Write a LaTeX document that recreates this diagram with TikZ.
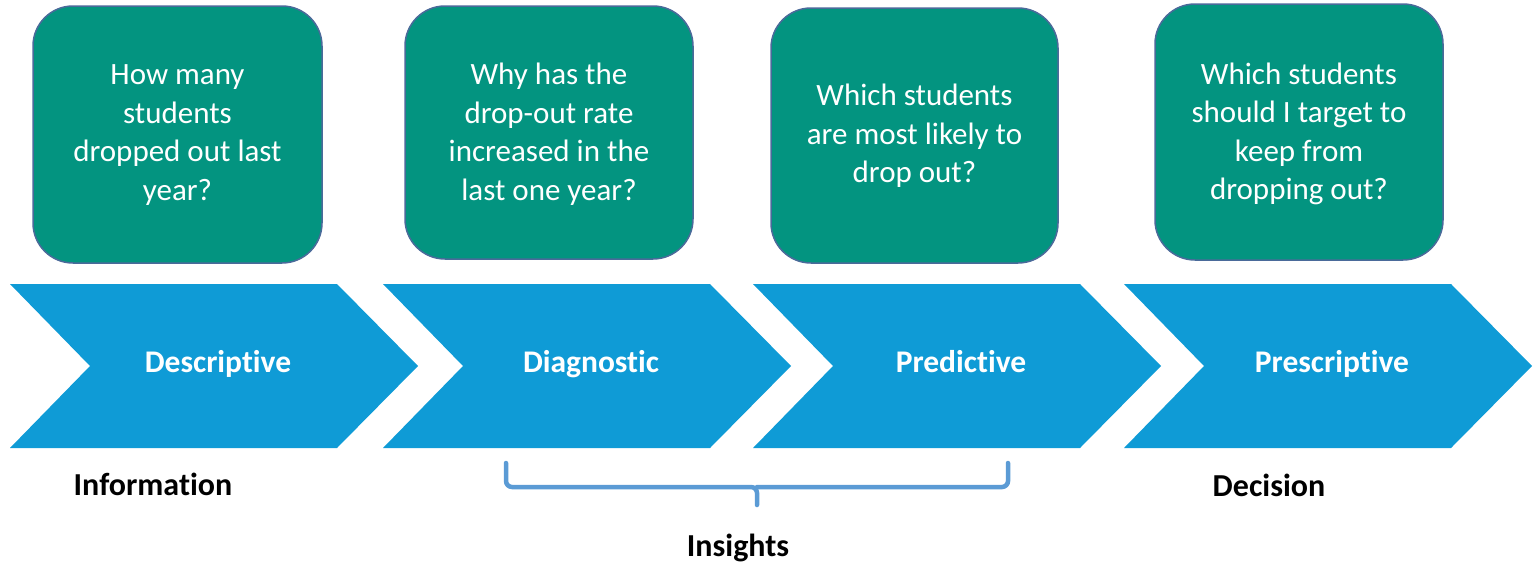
\documentclass[tikz,border=0pt]{standalone}
\usepackage{fontspec}
\setmainfont{Carlito}[RawFeature={-liga;-clig;-dlig}]
\definecolor{chev}{RGB}{15,155,214}
\definecolor{tealq}{RGB}{3,148,128}
\definecolor{bord}{RGB}{74,106,154}
\definecolor{brc}{RGB}{91,155,213}
\begin{document}
\begin{tikzpicture}[x=1pt,y=-1pt,
  qbox/.style={draw=bord, line width=1.5pt, fill=tealq, rounded corners=40pt},
  qtext/.style={text=white, align=center, inner sep=0pt, font=\fontsize{31}{38.5}\selectfont},
  chevfill/.style={fill=chev},
  chevlabel/.style={text=white, inner sep=0pt, anchor=base, font=\fontsize{31.5}{34}\selectfont\bfseries},
  blabel/.style={text=black, inner sep=0pt, anchor=base, font=\fontsize{32}{34}\selectfont\bfseries},
  bracestyle/.style={draw=brc, line width=4.5pt, rounded corners=6pt, line cap=round}]
\useasboundingbox (0,0) rectangle (1537,562);
% question boxes
\draw[qbox] (33,6) rectangle (322,263);
\draw[qbox] (405,6) rectangle (693,259);
\draw[qbox] (771,8) rectangle (1058,263);
\draw[qbox] (1155,4) rectangle (1443,260);
\node[qtext] (q1) at (177.5,135) {How many\\students\\dropped out last\\year?};
\node[qtext] (q2) at (549,134) {Why has the\\drop-out rate\\increased in the\\last one year?};
\node[qtext] (q3) at (914.5,136) {Which students\\are most likely to\\drop out?};
\node[qtext] (q4) at (1299,134) {Which students\\should I target to\\keep from\\dropping out?};
% chevrons
\foreach \L/\name/\txt in {10/c1/Descriptive, 383/c2/Diagnostic, 753/c3/Predictive, 1124/c4/Prescriptive}{
  \fill[chevfill] (\L,284) -- ({\L+327},284) -- ({\L+408},366) -- ({\L+327},448) -- (\L,448) -- ({\L+80},366) -- cycle;
  \node[chevlabel] (\name) at ({\L+208},372) {\txt};
}
% bottom labels
\node[blabel] (info) at (153,495) {Information};
\node[blabel] (dec) at (1269,496) {Decision};
\node[blabel] (ins) at (738,556) {Insights};
% brace
\coordinate (bl) at (506,463);
\coordinate (br) at (1008,463);
\coordinate (bm) at (757,487);
\coordinate (bt) at (757,505);
\draw[bracestyle] (bl) |- (bm) -- (bt);
\draw[bracestyle] (br) |- (bm);
\end{tikzpicture}
\end{document}
